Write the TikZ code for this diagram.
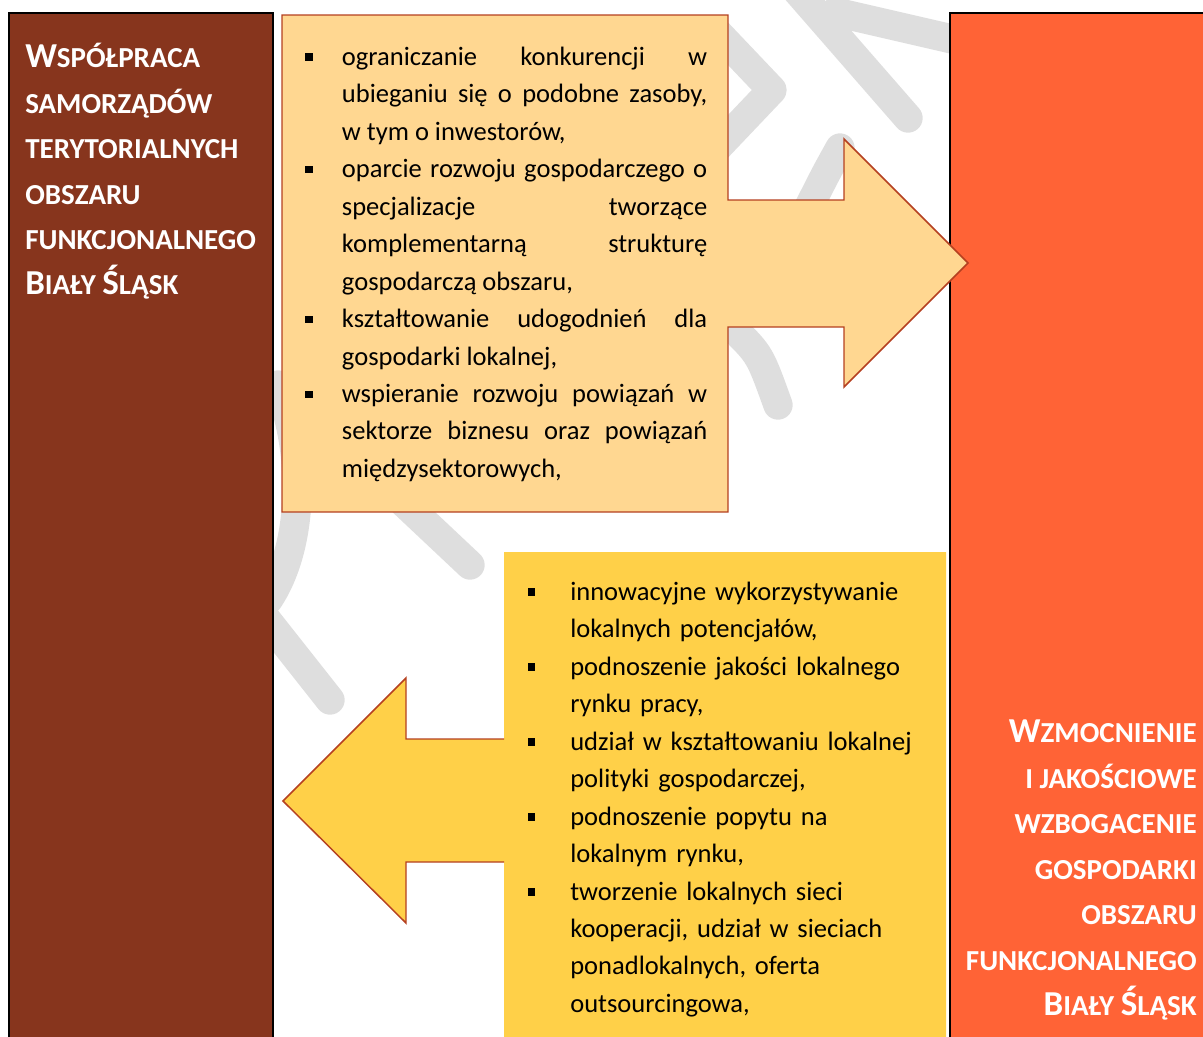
\documentclass[tikz,border=0pt]{standalone}
\usepackage{fontspec}
\setmainfont{Carlito}
\usetikzlibrary{positioning}
\definecolor{barbrown}{RGB}{135,53,29}
\definecolor{barorange}{RGB}{255,99,54}
\definecolor{peach}{RGB}{255,215,145}
\definecolor{sunyellow}{RGB}{255,208,72}
\definecolor{rimred}{RGB}{181,64,32}
\definecolor{wmgray}{RGB}{222,222,222}

% small caps made by hand
\newcommand{\kap}[1]{{\fontsize{21.75pt}{34.1pt}\selectfont #1}}
% square bullet with hanging indent
\newcommand{\pkt}[1]{\noindent\hangindent=#1\hangafter=1\strut\makebox[#1][l]{\rule[3.4pt]{5.5pt}{5.5pt}}}

\begin{document}
\begin{tikzpicture}[x=0.75pt, y=-0.75pt,
    bar/.style={draw=black, line width=1.6pt},
    wmstroke/.style={draw=wmgray, line width=22pt, line cap=round, line join=round},
    title/.style={text=white, inner sep=0pt, font=\bfseries\fontsize{26.25pt}{34.1pt}\selectfont},
    list/.style={inner sep=0pt, font=\fontsize{19.9pt}{28.1pt}\selectfont},
    rim/.style={draw=rimred, line width=1.1pt}]

    \useasboundingbox (0,0) rectangle (1203,1036);

    % watermark
    \draw [wmstroke] (792,-15) -- (908,118);
    \draw [wmstroke] (835,12) -- (965,42);
    \draw [wmstroke] (715,30) -- (772,90) -- (715,150);
    \draw [wmstroke] (840,148) .. controls (825,175) .. (805,215);
    \draw [wmstroke] (735,330) .. controls (760,355) .. (778,405);
    \draw [wmstroke] (255,605) -- (330,700);
    \draw [wmstroke] (385,485) -- (470,565);
    \draw [wmstroke] (278,385) .. controls (305,450) and (305,545) .. (268,600);

    % side bars
    \filldraw [bar, fill=barbrown] (9,13) rectangle (273,1045);
    \filldraw [bar, fill=barorange] (950,13) rectangle (1215,1045);

    % upper arrow
    \filldraw [rim, fill=peach] (282,15) -- (728,15) -- (728,200) -- (844,200) -- (844,139)
        -- (968,263) -- (844,387) -- (844,327) -- (728,327) -- (728,512) -- (282,512) -- cycle;

    % lower arrow
    \fill [sunyellow] (504,552) -- (946,552) -- (946,1045) -- (504,1045) -- (504,862) -- (406,862)
        -- (406,923) -- (283,801) -- (406,678) -- (406,739) -- (504,739) -- cycle;
    \draw [rim] (504,739) -- (406,739) -- (406,678) -- (283,801) -- (406,923) -- (406,862) -- (504,862);

    % titles
    \node [title, anchor=north west, align=left] (wspolpraca) at (25,43)
        {W\kap{SPÓŁPRACA}\\\kap{SAMORZĄDÓW}\\\kap{TERYTORIALNYCH}\\\kap{OBSZARU}\\\kap{FUNKCJONALNEGO}\\B\kap{IAŁY }Ś\kap{LĄSK}};
    \node [title, anchor=north east, align=right] (wzmocnienie) at (1197,720)
        {W\kap{ZMOCNIENIE}\\\kap{I JAKOŚCIOWE}\\\kap{WZBOGACENIE}\\\kap{GOSPODARKI}\\\kap{OBSZARU}\\\kap{FUNKCJONALNEGO}\\B\kap{IAŁY }Ś\kap{LĄSK}};

    % lists
    \node [list, anchor=north west, text width=301.5pt, align=justify] (gornalista) at (305,38.8)
        {\pkt{27.5pt}ograniczanie konkurencji w\linebreak ubieganiu się o podobne zasoby,\linebreak w tym o inwestorów,\par
         \pkt{27.5pt}oparcie rozwoju gospodarczego o\linebreak specjalizacje tworzące\linebreak komplementarną strukturę\linebreak gospodarczą obszaru,\par
         \pkt{27.5pt}kształtowanie udogodnień dla\linebreak gospodarki lokalnej,\par
         \pkt{27.5pt}wspieranie rozwoju powiązań w\linebreak sektorze biznesu oraz powiązań\linebreak międzysektorowych,\par};
    \node [list, anchor=north west, text width=300pt, align=left] (dolnalista) at (527.5,573.8)
        {\pkt{31.9pt}innowacyjne wykorzystywanie\newline lokalnych potencjałów,\par
         \pkt{31.9pt}podnoszenie jakości lokalnego\newline rynku pracy,\par
         \pkt{31.9pt}udział w kształtowaniu lokalnej\newline polityki gospodarczej,\par
         \pkt{31.9pt}podnoszenie popytu na\newline lokalnym rynku,\par
         \pkt{31.9pt}tworzenie lokalnych sieci\newline kooperacji, udział w sieciach\newline ponadlokalnych, oferta\newline outsourcingowa,\par};

\end{tikzpicture}
\end{document}
